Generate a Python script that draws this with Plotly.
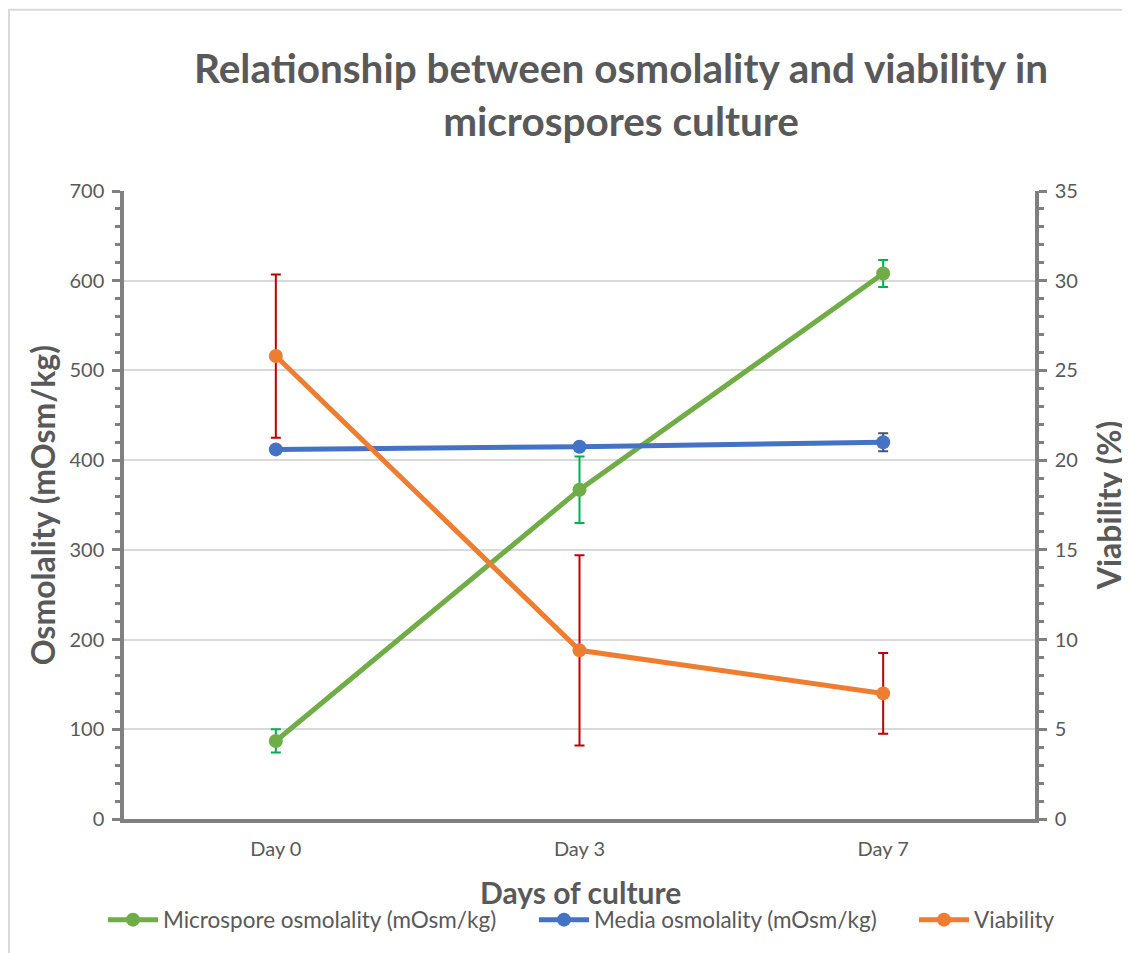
import plotly.graph_objects as go

days = ["Day 0", "Day 3", "Day 7"]
micro = [87, 367, 608]
micro_err = [13, 37, 15]
media = [412, 415, 420]
media_err = [3, 4, 10]
viab = [25.8, 9.4, 7.0]
viab_err = [4.55, 5.3, 2.25]

TXT = "#595959"
FONT = "Lato"
GREEN, BLUE, ORANGE = "#70AD47", "#4472C4", "#ED7D31"

# page body has an 8px margin, so the figure is 1122x945 and offsets are -8
W, H = 1122, 945
L, R, T, B = 116, 95, 182.5, 134
PW, PH = W - L - R, H - T - B


def px(xp):
    return (xp - 8 - L) / PW


def py(yp):
    return (H - B - (yp - 8)) / PH


fig = go.Figure()
fig.add_trace(go.Scatter(
    x=days, y=micro, name="Microspore osmolality (mOsm/kg)", mode="lines+markers",
    line=dict(color=GREEN, width=5), marker=dict(size=14, color=GREEN),
    error_y=dict(type="data", array=micro_err, color="#00B050", thickness=2, width=5),
    legend="legend"))
fig.add_trace(go.Scatter(
    x=days, y=media, name="Media osmolality (mOsm/kg)", mode="lines+markers",
    line=dict(color=BLUE, width=5), marker=dict(size=14, color=BLUE),
    error_y=dict(type="data", array=media_err, color="#44546A", thickness=2, width=5),
    legend="legend2"))
fig.add_trace(go.Scatter(
    x=days, y=viab, name="Viability", mode="lines+markers", yaxis="y2",
    line=dict(color=ORANGE, width=5), marker=dict(size=14, color=ORANGE),
    error_y=dict(type="data", array=viab_err, color="#C00000", thickness=2, width=5),
    legend="legend3"))

axis_common = dict(
    showline=True, linecolor="#808080", linewidth=3.5,
    tickfont=dict(family=FONT, size=20, color=TXT),
)

leg_common = dict(orientation="h", yref="container", yanchor="middle", y=1 - (920 - 8) / H,
                  xref="container", xanchor="left", bgcolor="rgba(0,0,0,0)",
                  font=dict(family=FONT, size=22.5, color=TXT), itemwidth=50)

fig.update_layout(
    width=W, height=H,
    margin=dict(l=L, r=R, t=T, b=B),
    paper_bgcolor="white", plot_bgcolor="white",
    font=dict(family=FONT, color=TXT),
    annotations=[
        dict(text="<b>Relationship between osmolality and viability in<br>microspores culture</b>",
             xref="paper", yref="paper", x=px(621), y=py(93), showarrow=False,
             xanchor="center", yanchor="middle", align="center",
             font=dict(family=FONT, size=40.5, color=TXT)),
        dict(text="<b>Osmolality (mOsm/kg)</b>", textangle=-90, xref="paper", yref="paper",
             x=px(42), y=py(505), showarrow=False,
             font=dict(family=FONT, size=32, color=TXT), xanchor="center", yanchor="middle"),
        dict(text="<b>Viability (%)</b>", textangle=-90, xref="paper", yref="paper",
             x=px(1108), y=py(505), showarrow=False,
             font=dict(family=FONT, size=32, color=TXT), xanchor="center", yanchor="middle"),
        dict(text="<b>Days of culture</b>", xref="paper", yref="paper",
             x=px(580), y=py(892), showarrow=False,
             font=dict(family=FONT, size=30, color=TXT), xanchor="center", yanchor="middle"),
    ],
    xaxis=dict(**axis_common, range=[-0.5, 2.5], showgrid=False, ticks="",
               ticklabelstandoff=9),
    yaxis=dict(**axis_common, range=[0, 700], dtick=100, showgrid=True,
               gridcolor="#D9D9D9", gridwidth=1.5, ticks="outside", ticklen=8,
               tickwidth=3, tickcolor="#808080", zeroline=False, ticklabelstandoff=4,
               minor=dict(dtick=20, ticks="outside", ticklen=5, tickwidth=3, tickcolor="#808080")),
    yaxis2=dict(**axis_common, range=[0, 35], dtick=5, overlaying="y", side="right",
                showgrid=False, ticks="outside", ticklen=8, tickwidth=3, tickcolor="#808080",
                zeroline=False, ticklabelstandoff=4,
                minor=dict(dtick=1, ticks="outside", ticklen=5, tickwidth=3, tickcolor="#808080")),
    legend=dict(**leg_common, x=(103 - 8) / W),
    legend2=dict(**leg_common, x=(534 - 8) / W),
    legend3=dict(**leg_common, x=(914 - 8) / W),
    showlegend=True,
    shapes=[
        dict(type="line", xref="paper", yref="paper", x0=px(8), x1=px(1130),
             y0=py(9), y1=py(9), line=dict(color="#D9D9D9", width=2)),
        dict(type="line", xref="paper", yref="paper", x0=px(9), x1=px(9),
             y0=py(9), y1=py(953), line=dict(color="#D9D9D9", width=2)),
    ],
)

fig.write_html("out.html")
